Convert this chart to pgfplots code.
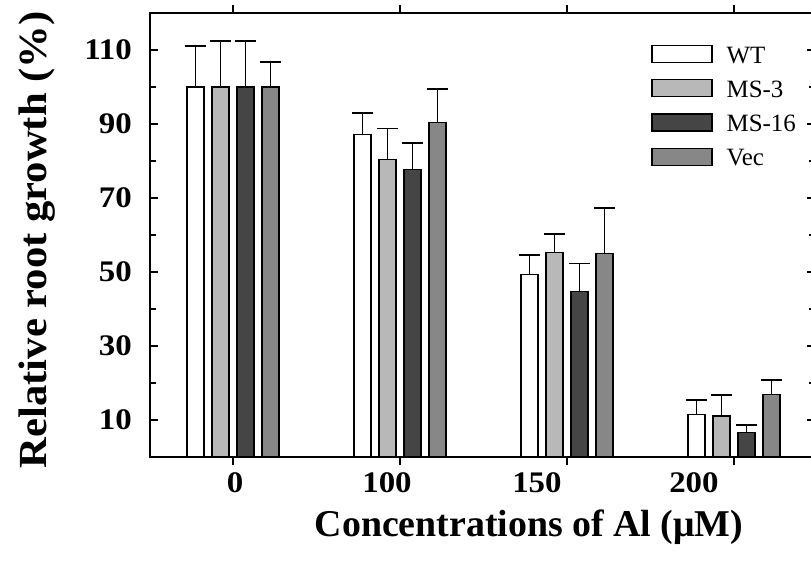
\documentclass[border=0pt]{standalone}
\usepackage{fontspec}
\setmainfont{Liberation Serif}
\usepackage{graphicx}
\usepackage{pgfplots}
\pgfplotsset{compat=1.18}

\definecolor{msthree}{gray}{0.72}
\definecolor{msixteen}{gray}{0.27}
\definecolor{vecgray}{gray}{0.53}

% relative root growth (%) and upper error, one table per line
\pgfplotstableread{
x y e
0 100  11.0
1 87.2 5.7
2 49.4 5.2
3 11.4 4.0
}\wt
\pgfplotstableread{
x y e
0 100  12.4
1 80.3 8.5
2 55.3 4.9
3 11.1 5.7
}\msthree
\pgfplotstableread{
x y e
0 100  12.4
1 77.8 7.0
2 44.7 7.6
3 6.6  2.0
}\msixteen
\pgfplotstableread{
x y e
0 100  6.8
1 90.4 9.0
2 54.9 12.3
3 16.8 4.0
}\vec

\pgfplotsset{
  legbox/.style={legend image code/.code={
      \draw[##1, line width=1.2bp] (0bp,-8bp) rectangle (60bp,9bp);}},
}

\begin{document}
\begin{tikzpicture}
\useasboundingbox (-150bp,-109bp) rectangle (661bp,457bp);
\begin{axis}[
  at={(0,0)}, anchor=south west,
  x=167bp, y=3.7bp,
  xmin=-0.497, xmax=3.485, ymin=0, ymax=120,
  ybar, bar width=17bp,
  axis line style={line width=1.4bp},
  tick style={line width=1.2bp, black},
  major tick length=8bp, minor tick length=6bp,
  xtick={0,1,2,3}, xticklabels={},
  extra x ticks={0.012,0.922,1.82,2.76},
  extra x tick labels={0,100,150,200},
  extra x tick style={major tick length=0pt},
  xticklabel style={font=\fontsize{30}{30}\selectfont\bfseries,
    anchor=north, inner sep=0pt, yshift=-15bp, xscale=1.1},
  ytick={10,30,50,70,90,110},
  yticklabels={10,30,50,70,90,110},
  minor ytick={20,40,60,80,100},
  yticklabel style={font=\fontsize{30}{30}\selectfont\bfseries,
    anchor=east, inner sep=0pt, xshift=-18bp, xscale=1.1},
  ylabel={\scalebox{1.07}[1.0]{Relative root growth (\%)}},
  ylabel style={font=\fontsize{40}{40}\selectfont\bfseries,
    at={(axis description cs:-0.1697,0.489)}, anchor=center},
  xlabel={Concentrations of Al (μM)},
  xlabel style={font=\fontsize{38}{38}\selectfont\bfseries,
    at={(rel axis cs:0.57,0)}, anchor=center, yshift=-70bp},
  error bars/y dir=plus,
  error bars/y explicit,
  error bars/error bar style={line width=1.1bp, black},
  error bars/error mark options={rotate=90, line width=1.8bp, mark size=10.5bp, black},
  legend style={draw=none, fill=none,
    at={(rel axis cs:0.754,0.928)}, anchor=north west,
    inner sep=0pt, outer sep=0pt, row sep=16bp, column sep=14bp,
    font=\fontsize{25}{25}\selectfont,
    nodes={inner sep=0pt, text height=17bp, text depth=0pt}},
  legend cell align=left,
]
\addplot[fill=white, draw=black, line width=1.2bp, bar shift=-37.5bp, legbox]
  table[x=x, y=y, y error=e] {\wt};
\addplot[fill=msthree, draw=black, line width=1.2bp, bar shift=-12.5bp, legbox]
  table[x=x, y=y, y error=e] {\msthree};
\addplot[fill=msixteen, draw=black, line width=1.2bp, bar shift=12.5bp, legbox]
  table[x=x, y=y, y error=e] {\msixteen};
\addplot[fill=vecgray, draw=black, line width=1.2bp, bar shift=37.5bp, legbox]
  table[x=x, y=y, y error=e] {\vec};
\legend{WT, MS-3, MS-16, Vec}
\end{axis}
\end{tikzpicture}
\end{document}
